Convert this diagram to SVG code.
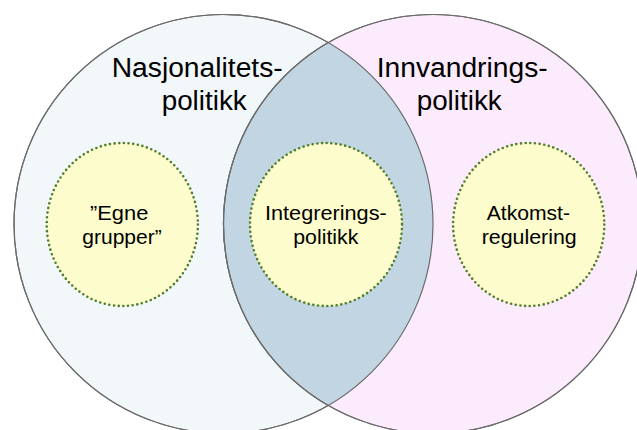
<svg xmlns="http://www.w3.org/2000/svg" width="637" height="430" viewBox="0 0 637 430">
<defs>
<style>
.big{fill:#F2F7FA;stroke:#6B6B6B;stroke-width:1.2}
.bigr{fill:#FCEBFC;stroke:#6B6B6B;stroke-width:1.2}
.lens{fill:#C2D5E3;stroke:#6B6B6B;stroke-width:1.2}
.inner{fill:#FCFCCC;stroke:#4F7F27;stroke-width:2.6;stroke-dasharray:0 4.7;stroke-linecap:round}
.t1{font-family:"Liberation Sans",Arial,sans-serif;font-size:27px;fill:#000}
.t2{font-family:"Liberation Sans",Arial,sans-serif;font-size:19.5px;fill:#000}
</style>
<clipPath id="clipL"><circle cx="223.5" cy="224" r="209.5"/></clipPath>
</defs>
<rect width="637" height="430" fill="#FFFFFF"/>
<g id="nasjonalitet">
<circle class="big" cx="223.5" cy="224" r="209.5"/>
</g>
<g id="innvandring">
<circle class="bigr" cx="433" cy="224" r="209.5"/>
</g>
<g id="overlap">
<circle class="lens" cx="433" cy="224" r="209.5" clip-path="url(#clipL)"/>
<circle cx="223.5" cy="224" r="209.5" fill="none" stroke="#6B6B6B" stroke-width="1.2"/>
<circle cx="433" cy="224" r="209.5" fill="none" stroke="#6B6B6B" stroke-width="1.2"/>
</g>
<g id="label-nasjonalitet">
<text class="t1" x="111.7" y="76.7" textLength="171" lengthAdjust="spacingAndGlyphs">Nasjonalitets-</text>
<text class="t1" x="161.7" y="110" textLength="85" lengthAdjust="spacingAndGlyphs">politikk</text>
</g>
<g id="label-innvandring">
<text class="t1" x="376.7" y="76.7" textLength="171" lengthAdjust="spacingAndGlyphs">Innvandrings-</text>
<text class="t1" x="416.7" y="110" textLength="85" lengthAdjust="spacingAndGlyphs">politikk</text>
</g>
<g id="egne">
<ellipse class="inner" cx="122.3" cy="224.5" rx="75.6" ry="81.5"/>
<text class="t2" x="90" y="220" textLength="58.3" lengthAdjust="spacingAndGlyphs">”Egne</text>
<text class="t2" x="82.3" y="243.5" textLength="79.4" lengthAdjust="spacingAndGlyphs">grupper”</text>
</g>
<g id="integrering">
<ellipse class="inner" cx="326" cy="224.5" rx="76" ry="81.5"/>
<text class="t2" x="265" y="220" textLength="121.7" lengthAdjust="spacingAndGlyphs">Integrerings-</text>
<text class="t2" x="293.3" y="244.3" textLength="65" lengthAdjust="spacingAndGlyphs">politikk</text>
</g>
<g id="atkomst">
<ellipse class="inner" cx="528.7" cy="224.5" rx="75.6" ry="81.5"/>
<text class="t2" x="486.7" y="220" textLength="83.3" lengthAdjust="spacingAndGlyphs">Atkomst-</text>
<text class="t2" x="481.7" y="244" textLength="95" lengthAdjust="spacingAndGlyphs">regulering</text>
</g>
<g id="connectors"></g>
</svg>
